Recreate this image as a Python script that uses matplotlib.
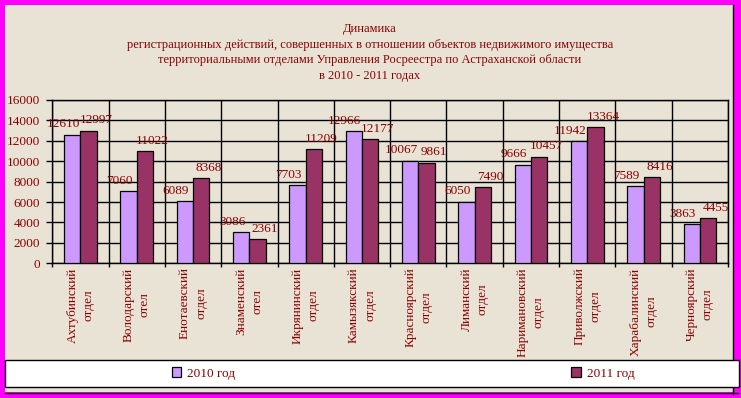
import matplotlib
matplotlib.use("Agg")
import matplotlib.pyplot as plt
from matplotlib.patches import Rectangle
from matplotlib.lines import Line2D
import numpy as np

plt.rcParams['font.family'] = ['Liberation Serif', 'DejaVu Serif']

# Данные
otdely = ["Ахтубинский\nотдел", "Володарский\nотел", "Енотаевский\nотдел",
          "Знаменский\nотел", "Икрянинский\nотдел", "Камызякский\nотдел",
          "Красноярский\nотдел", "Лиманский\nотдел", "Наримановский\nотдел",
          "Приволжский\nотдел", "Харабалинский\nотдел", "Черноярский\nотдел"]
god_2010 = [12610, 7060, 6089, 3086, 7703, 12966, 10067, 6050, 9666, 11942, 7589, 3863]
god_2011 = [12997, 11022, 8368, 2361, 11209, 12177, 9861, 7490, 10457, 13364, 8416, 4455]
legend_labels = ["2010 год", "2011 год"]
y_ticks = list(range(0, 16001, 2000))

title = ("Динамика\n"
         "регистрационных действий, совершенных в отношении объектов недвижимого имущества\n"
         "территориальными отделами Управления Росреестра по Астраханской области\n"
         "в 2010 - 2011 годах")

TXT = '#8b0000'
W, H = 741, 398

fig = plt.figure(figsize=(W / 100, H / 100), dpi=100, facecolor='#ff00ff')

# фон диаграммы
fig.patches.append(Rectangle((5 / W, 1 - 392 / H), 728 / W, 387 / H,
                             transform=fig.transFigure, facecolor='#e9e3d6',
                             edgecolor='none', zorder=-5))
fig.lines.append(Line2D([733 / W, 733 / W], [1 - 394 / H, 1 - 5 / H],
                        transform=fig.transFigure, color='black', lw=1, zorder=-4))
fig.lines.append(Line2D([5 / W, 738 / W], [1 - 393 / H, 1 - 393 / H],
                        transform=fig.transFigure, color='black', lw=1, zorder=-4))
# область легенды
fig.patches.append(Rectangle((5 / W, 1 - 387 / H), 734 / W, 27 / H,
                             transform=fig.transFigure, facecolor='white',
                             edgecolor='black', lw=1, zorder=2))

ax = fig.add_axes([52.3 / W, 1 - 263.3 / H, 675.7 / W, 163.3 / H])
ax.set_facecolor('none')

x = np.arange(len(otdely))
bw = 0.29
b1 = ax.bar(x - bw / 2, god_2010, bw, color='#cc99ff', edgecolor='black', lw=0.9, zorder=3)
b2 = ax.bar(x + bw / 2, god_2011, bw, color='#993366', edgecolor='black', lw=0.9, zorder=3)

for xi, v in zip(x, god_2010):
    ax.annotate(str(v), (xi - bw / 2, v), xytext=(-6.5, 3), textcoords='offset points',
                ha='center', va='bottom', color=TXT, fontsize=9.5, zorder=4)
for xi, v in zip(x, god_2011):
    ax.annotate(str(v), (xi + bw / 2, v), xytext=(5.5, 3), textcoords='offset points',
                ha='center', va='bottom', color=TXT, fontsize=9.5, zorder=4)

ax.set_xlim(-0.5, len(otdely) - 0.5)
ax.set_ylim(0, 16000)
ax.set_yticks(y_ticks)
ax.set_yticklabels([str(t) for t in y_ticks])
ax.set_xticks(x)
ax.set_xticklabels(otdely, rotation=90, ha='center', va='top', multialignment='center',
                   linespacing=1.45)
ax.set_xticks(np.arange(-0.5, len(otdely)), minor=True)

ax.set_axisbelow(True)
ax.yaxis.grid(True, color='black', lw=1)
ax.xaxis.grid(True, which='minor', color='black', lw=1)
ax.tick_params(axis='y', length=4, width=1, pad=5, labelsize=9.5, labelcolor=TXT, direction='out')
ax.tick_params(axis='x', which='major', length=0, pad=3, labelsize=9.5, labelcolor=TXT)
ax.tick_params(axis='x', which='minor', length=3, width=1, direction='out')
for s in ax.spines.values():
    s.set_color('black')
    s.set_linewidth(1)

fig.text(370 / W, 1 - 52.5 / H, title, ha='center', va='center', multialignment='center',
         color=TXT, fontsize=9, linespacing=1.38)

fig.legend([b1, b2], legend_labels, loc='center', bbox_to_anchor=(403 / W, 1 - 373.5 / H),
           ncol=2, frameon=False, fontsize=9.5, labelcolor=TXT,
           handlelength=0.7, handleheight=0.7, handletextpad=0.45, columnspacing=25.5)

fig.savefig('out.png', dpi=100, facecolor=fig.get_facecolor())
